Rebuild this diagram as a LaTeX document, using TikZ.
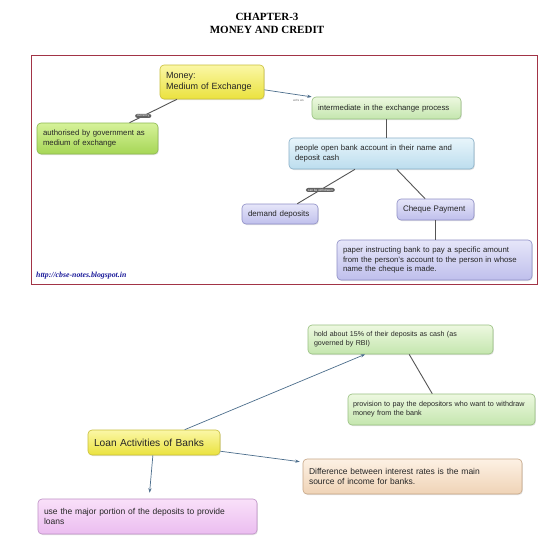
\documentclass[tikz,border=0pt]{standalone}
\usepackage{fontspec}
\setmainfont{Liberation Sans}
\newfontfamily\titlefont{Liberation Serif}
\usetikzlibrary{arrows.meta,shadows}
\definecolor{frameRed}{HTML}{A23446}
\definecolor{lineGray}{HTML}{555555}
\definecolor{arrBlue}{HTML}{4C6E8C}
\definecolor{urlBlue}{HTML}{1A1A9A}
\tikzset{
  box/.style={draw, rounded corners=4pt, line width=0.6pt, align=left,
    inner xsep=6pt, inner ysep=2pt, anchor=center, text=black!85,
    drop shadow={opacity=0.22, shadow xshift=0.8pt, shadow yshift=-1pt}},
  yelbox/.style={box, top color=HTML-yelT, bottom color=HTML-yelB, draw=HTML-yelD},
  authbox/.style={box, top color=HTML-agT, bottom color=HTML-agB, draw=HTML-agD},
  grnbox/.style={box, top color=HTML-lgT, bottom color=HTML-lgB, draw=HTML-lgD},
  blubox/.style={box, top color=HTML-blT, bottom color=HTML-blB, draw=HTML-blD},
  lavbox/.style={box, top color=HTML-lvT, bottom color=HTML-lvB, draw=HTML-lvD},
  pinkbox/.style={box, top color=HTML-pkT, bottom color=HTML-pkB, draw=HTML-pkD},
  peachbox/.style={box, top color=HTML-pcT, bottom color=HTML-pcB, draw=HTML-pcD},
  link/.style={draw=lineGray, line width=0.9pt},
  arrowlink/.style={draw=arrBlue, line width=0.7pt, -{Stealth[length=4.5pt,width=3.2pt]}},
  pill/.style={fill=black!62, text=white, rounded corners=2.2pt, inner xsep=2pt,
    inner ysep=0.8pt, font=\fontsize{3.2}{3.4}\selectfont},
}
\definecolor{HTML-yelT}{HTML}{FBF7A6}
\definecolor{HTML-yelB}{HTML}{EAE23E}
\definecolor{HTML-yelD}{HTML}{C9BF3A}
\definecolor{HTML-agT}{HTML}{D6F29A}
\definecolor{HTML-agB}{HTML}{A6D656}
\definecolor{HTML-agD}{HTML}{8CB850}
\definecolor{HTML-lgT}{HTML}{EDF8E0}
\definecolor{HTML-lgB}{HTML}{C4E6AE}
\definecolor{HTML-lgD}{HTML}{98C080}
\definecolor{HTML-blT}{HTML}{E8F5FB}
\definecolor{HTML-blB}{HTML}{BCDDEE}
\definecolor{HTML-blD}{HTML}{88AFC8}
\definecolor{HTML-lvT}{HTML}{E6E6F9}
\definecolor{HTML-lvB}{HTML}{BFBFEC}
\definecolor{HTML-lvD}{HTML}{8E8EC6}
\definecolor{HTML-pkT}{HTML}{F9E0F9}
\definecolor{HTML-pkB}{HTML}{EBBDF0}
\definecolor{HTML-pkD}{HTML}{BE90C6}
\definecolor{HTML-pcT}{HTML}{FDF1E4}
\definecolor{HTML-pcB}{HTML}{EFD3B6}
\definecolor{HTML-pcD}{HTML}{C6A686}
\begin{document}
\begin{tikzpicture}[x=1pt,y=-1pt]
\useasboundingbox[fill=white] (0,0) rectangle (548,547);

% title
\node[font=\titlefont\bfseries\fontsize{11}{13}\selectfont, align=center] (title) at (267,23) {CHAPTER-3\\MONEY AND CREDIT};

% frame
\draw[frameRed, line width=1pt] (31,55) rectangle (537,284);

% upper map nodes
\node[yelbox, text width=92pt, minimum height=34pt, font=\fontsize{9}{10.6}\selectfont] (money) at (212,82) {Money:\\Medium of Exchange};
\node[authbox, text width=109pt, minimum height=31pt, font=\fontsize{7.8}{9.6}\selectfont] (auth) at (97.5,138.5) {authorised by government as\\medium of exchange};
\node[grnbox, text width=137pt, minimum height=22pt, font=\fontsize{7.8}{9}\selectfont] (inter) at (386.5,108) {intermediate in the exchange process};
\node[blubox, text width=173pt, minimum height=31pt, font=\fontsize{7.8}{9.3}\selectfont] (people) at (381.5,153.5) {people open bank account in their name and\\deposit cash};
\node[lavbox, text width=64pt, minimum height=20pt, font=\fontsize{8}{9}\selectfont] (demand) at (280,214) {demand deposits};
\node[lavbox, text width=65pt, minimum height=21pt, font=\fontsize{8}{9}\selectfont] (cheque) at (435.5,209.5) {Cheque Payment};
\node[lavbox, text width=183pt, minimum height=40pt, font=\fontsize{7.8}{9.9}\selectfont] (paper) at (434.5,260) {paper instructing bank to pay a specific amount\\from the person's account to the person in whose\\name the cheque is made.};

% upper connectors
\draw[link] (money) -- node[pill, pos=0.71] (currlbl) {currency} (auth);
\draw[arrowlink] (money) -- node[pos=0.72, below=0.6pt, font=\fontsize{3.3}{3.5}\selectfont, text=black!55] (actslbl) {acts as} (inter);
\draw[link] (inter.south) -- (inter.south |- people.north);
\draw[link] (people) -- node[pill, pos=0.6] (withlbl) {can be withdrawn} (demand);
\draw[link] (people) -- (cheque);
\draw[link] (cheque.south) -- (cheque.south |- paper.north);

% url
\node[anchor=west, text=urlBlue, font=\titlefont\itshape\bfseries\fontsize{7.8}{8}\selectfont, inner sep=0pt] (url) at (36,276) {http://cbse-notes.blogspot.in};

% lower map nodes
\node[grnbox, text width=173pt, minimum height=29pt, font=\fontsize{7.1}{9.3}\selectfont] (hold) at (400.5,339.5) {hold about 15\% of their deposits as cash (as\\governed by RBI)};
\node[grnbox, inner xsep=5pt, text width=177pt, minimum height=31pt, font=\fontsize{7.2}{8.8}\selectfont] (prov) at (441.5,409.5) {provision to pay the depositors who want to withdraw\\money from the bank};
\node[yelbox, text width=120pt, minimum height=25pt, font=\fontsize{10.2}{11}\selectfont] (loan) at (154,442.5) {Loan Activities of Banks};
\node[pinkbox, text width=207pt, minimum height=35pt, font=\fontsize{8.5}{10.6}\selectfont] (use) at (147.5,516.5) {use the major portion of the deposits to provide\\loans};
\node[peachbox, text width=207pt, minimum height=35pt, font=\fontsize{8.5}{10}\selectfont] (diff) at (412.5,476.5) {Difference between interest rates is the main\\source of income for banks.};

% lower connectors
\draw[arrowlink] (loan) -- (hold);
\draw[link] (hold) -- (prov);
\draw[arrowlink, shorten >=6pt] (loan) -- (use);
\draw[arrowlink, shorten >=3pt] (loan) -- (diff);
\end{tikzpicture}
\end{document}
